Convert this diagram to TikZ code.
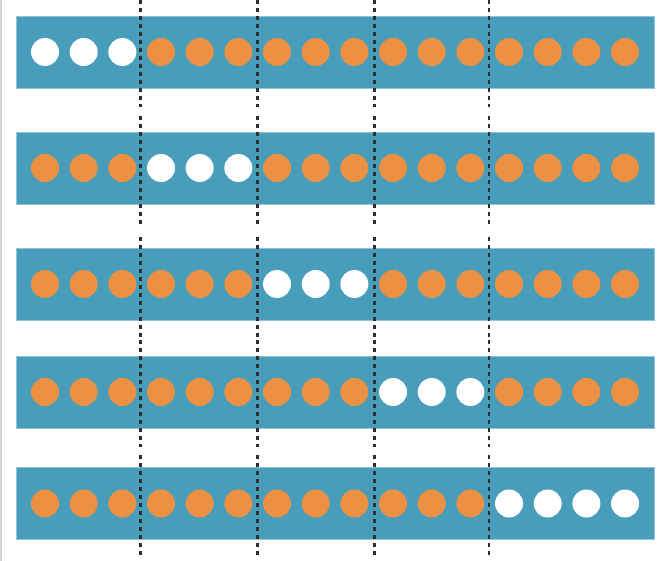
\documentclass[tikz,border=0pt]{standalone}
\usetikzlibrary{calc}
\definecolor{barblue}{HTML}{479DBA}
\definecolor{baredge}{HTML}{8CC6D8}
\definecolor{dotorange}{HTML}{EC9144}
\definecolor{dashgrey}{HTML}{2E2E2E}
\definecolor{edgegrey}{HTML}{D6D6D2}
\begin{document}
\begin{tikzpicture}[x=1pt,y=-1pt,
  barbox/.style={fill=barblue,draw=baredge,line width=0.8pt,minimum width=638pt,minimum height=72pt,inner sep=0pt,outer sep=0pt},
  dotw/.style={circle,fill=white,minimum size=28pt,inner sep=0pt},
  doto/.style={circle,fill=dotorange,minimum size=28pt,inner sep=0pt},
  splitline/.style={draw=dashgrey,line width=2.2pt,dash pattern=on 4pt off 4pt}]
\useasboundingbox (0,0) rectangle (661,561);
\fill[edgegrey] (0,0) rectangle (1.5,561);
% bars and dots
\foreach \r/\yc/\lo/\hi in {1/52/0/2, 2/168/3/5, 3/284/6/8, 4/392/9/11, 5/503.5/12/15}{
  \node[barbox] (bar\r) at (335,\yc) {};
  \foreach \i in {0,...,15}{
    \pgfmathtruncatemacro{\isw}{(\i>=\lo)&&(\i<=\hi)}
    \ifnum\isw=1
      \node[dotw] (d\r-\i) at ({45+\i*38.67},\yc) {};
    \else
      \node[doto] (d\r-\i) at ({45+\i*38.67},\yc) {};
    \fi
  }
}
% dashed separators
\foreach \k/\x in {1/140.5,2/257.5,3/374.5,4/489}{
  \foreach \s/\ya/\yb in {1/0/107,2/116/224,3/237/340,4/340/447,5/455/558}{
    \coordinate (t\k-\s) at (\x,\ya);
    \coordinate (b\k-\s) at (\x,\yb);
    \draw[splitline] (t\k-\s) -- (b\k-\s);
  }
}
\end{tikzpicture}
\end{document}
